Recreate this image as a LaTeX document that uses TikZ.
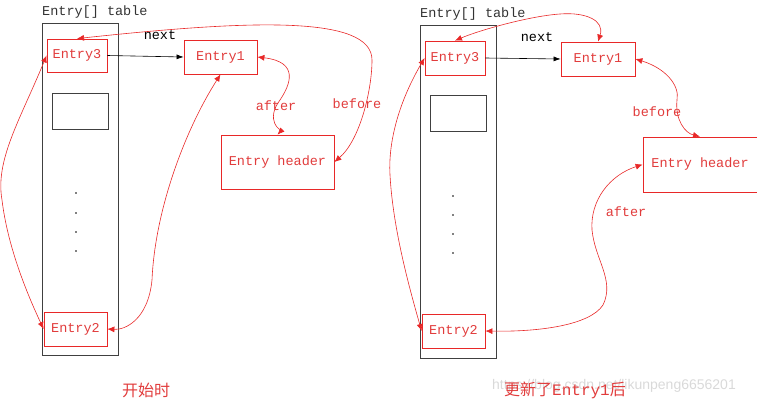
\documentclass[tikz,border=0pt]{standalone}
\usepackage{fontspec}
\setmonofont{Liberation Mono}
\newfontfamily\cjk{Noto Sans CJK SC}
\usetikzlibrary{arrows.meta}
\definecolor{myred}{RGB}{232,40,40}
\definecolor{txtred}{RGB}{225,60,60}
\begin{document}
\begin{tikzpicture}[x=1pt,y=-1pt,
  ebox/.style={draw=myred,thick,text=txtred,font=\ttfamily\fontsize{13.5}{13.5}\selectfont,inner sep=0pt},
  tbl/.style={draw=black!75,thick,inner sep=0pt},
  lbl/.style={font=\ttfamily\fontsize{13.5}{13.5}\selectfont,inner sep=0pt},
  rlink/.style={myred,semithick,{Latex[length=7pt,width=6pt]}-{Latex[length=7pt,width=6pt]}},
  nxt/.style={black,semithick,-{Latex[length=7pt,width=5pt]}}]
\useasboundingbox (0,0) rectangle (757,404);
% ---------- left ----------
\node[tbl,minimum width=76pt,minimum height=332pt] (tA) at (80,189) {};
\node[lbl,text=black!80,anchor=west] (tlA) at (42,12) {Entry[] table};
\node[ebox,minimum width=60pt,minimum height=33pt] (e3A) at (77,55.5) {Entry3};
\node[tbl,minimum width=56pt,minimum height=36pt] (emA) at (80,111) {};
\foreach \yy [count=\i] in {193,213,232,251} \node[circle,fill=black,inner sep=0.6pt] (dA\i) at (76,\yy) {};
\node[ebox,minimum width=63pt,minimum height=34pt] (e2A) at (75.5,329) {Entry2};
\node[ebox,minimum width=73pt,minimum height=34pt] (e1A) at (220.5,57) {Entry1};
\node[ebox,minimum width=113pt,minimum height=54pt] (hA) at (277.5,162) {Entry header};
\node[lbl] (nxA) at (160,35) {next};
\node[lbl,text=txtred] (afA) at (276,106) {after};
\node[lbl,text=txtred] (bfA) at (357,104) {before};
\node[text=txtred,font=\cjk\fontsize{16}{16}\selectfont] (capA) at (146,390) {开始时};
\draw[nxt] (e3A.east) -- (e1A.west);
\draw[rlink] (e3A.west) .. controls (20,120) and (-5,160) .. (2,200) .. controls (8,250) and (30,300) .. (e2A.west);
\draw[rlink] (e1A.south) .. controls (185,130) and (155,210) .. (152,280) .. controls (148,320) and (125,330) .. (e2A.east);
\draw[rlink] (e1A.east) .. controls (300,62) and (290,85) .. (280,100) .. controls (265,120) and (280,132) .. (hA.north);
\draw[rlink] (hA.east) .. controls (360,140) and (372,90) .. (372,60) .. controls (372,15) and (250,20) .. (e3A.north);
% ---------- right ----------
\node[tbl,minimum width=76pt,minimum height=333pt] (tB) at (458,191.5) {};
\node[lbl,text=black!80,anchor=west] (tlB) at (420,14) {Entry[] table};
\node[ebox,minimum width=60pt,minimum height=34pt] (e3B) at (455,58) {Entry3};
\node[tbl,minimum width=56pt,minimum height=36pt] (emB) at (458,113) {};
\foreach \yy [count=\i] in {196,215,234,253} \node[circle,fill=black,inner sep=0.6pt] (dB\i) at (453,\yy) {};
\node[ebox,minimum width=63pt,minimum height=34pt] (e2B) at (453.5,331) {Entry2};
\node[ebox,minimum width=74pt,minimum height=34pt] (e1B) at (598,59) {Entry1};
\node[ebox,minimum width=114pt,minimum height=55pt] (hB) at (700,164.5) {Entry header};
\node[lbl] (nxB) at (537,37) {next};
\node[lbl,text=txtred] (bfB) at (657,112) {before};
\node[lbl,text=txtred] (afB) at (626,212) {after};
\node[text=black!15,font=\fontspec{Liberation Sans}\fontsize{14}{14}\selectfont] (wm) at (614,386) {https://blog.csdn.net/likunpeng6656201};
\node[text=txtred,font=\cjk\fontsize{16}{16}\selectfont] (capB) at (565,390) {更新了{\ttfamily Entry1}后};
\draw[nxt] (e3B.east) -- (e1B.west);
\draw[rlink] (e3B.west) .. controls (400,100) and (388,140) .. (390,175) .. controls (393,230) and (410,290) .. (e2B.west);
\draw[rlink] (e1B.north) .. controls (605,20) and (585,12) .. (560,14) .. controls (530,16) and (480,30) .. (e3B.north);
\draw[rlink] (e1B.east) .. controls (665,68) and (680,85) .. (677,100) .. controls (675,120) and (685,133) .. (hB.north);
\draw[rlink] (hB.west) .. controls (610,175) and (590,200) .. (592,230) .. controls (595,260) and (615,280) .. (603,305) .. controls (590,325) and (540,332) .. (e2B.east);
\end{tikzpicture}
\end{document}
